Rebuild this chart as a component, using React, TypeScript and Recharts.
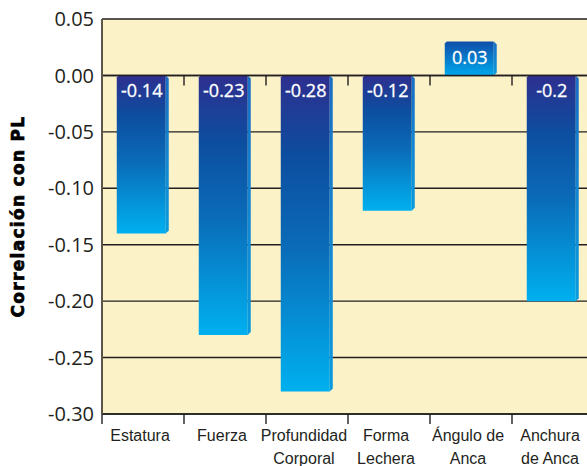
import { BarChart, Bar, XAxis, YAxis, CartesianGrid, ReferenceLine, LabelList } from 'recharts';

const categories = ['Estatura', 'Fuerza', 'Profundidad Corporal', 'Forma Lechera', 'Ángulo de Anca', 'Anchura de Anca'];
const categoryLines = [['Estatura'], ['Fuerza'], ['Profundidad', 'Corporal'], ['Forma', 'Lechera'], ['Ángulo de', 'Anca'], ['Anchura', 'de Anca']];
const correlations = [-0.14, -0.23, -0.28, -0.12, 0.03, -0.2];
const yTicks = [0.05, 0, -0.05, -0.1, -0.15, -0.2, -0.25, -0.3];

const data = categories.map((name, i) => ({ name, value: correlations[i] }));

const ink = '#231f20';

// bar with a thin bevelled side, like the original 3d look
const BevelBar = (props: any) => {
  const { x, y, width, height, value } = props;
  const top = Math.min(y, y + height);
  const h = Math.abs(height);
  const s = 3;
  const fill = value < 0 ? 'url(#negGrad)' : 'url(#posGrad)';
  return (
    <g>
      <path
        d={`M${x + 2},${top} L${x + width - s},${top} L${x + width - s},${top + h} L${x},${top + h} L${x},${top + 2} Z`}
        fill={fill}
      />
      <path
        d={`M${x + width - s},${top} L${x + width},${top + s} L${x + width},${top + h - s} L${x + width - s},${top + h} Z`}
        fill="url(#sideGrad)"
      />
    </g>
  );
};

const ValueLabel = (props: any) => {
  const { x, y, width, height, value } = props;
  const top = Math.min(y, y + height);
  return (
    <text
      x={x + width / 2 - 1}
      y={top + 22}
      textAnchor="middle"
      fill="#fff"
      stroke="#fff"
      strokeWidth={0.3}
      fontSize={18}
      fontFamily="Open Sans"
    >
      {String(value)}
    </text>
  );
};

const CategoryTick = (props: any) => {
  const { x, y, payload } = props;
  const half = payload.offset ?? 41;
  const idx = categories.indexOf(payload.value);
  const lines = categoryLines[idx] || [payload.value];
  return (
    <g>
      <line x1={x - half} x2={x - half} y1={y} y2={y + 10} stroke={ink} strokeWidth={1.4} />
      <text x={x - 3} y={y + 27} textAnchor="middle" fill={ink} fontSize={16} fontFamily="Liberation Sans">
        {lines.map((l, i) => (
          <tspan key={i} x={x - 3} dy={i === 0 ? 0 : 23}>{l}</tspan>
        ))}
      </text>
    </g>
  );
};

const ZeroLine = (props: any) => {
  const { x1, x2, y1 } = props;
  const step = (x2 - x1) / categories.length;
  return (
    <g>
      <line x1={x1} x2={x2} y1={y1} y2={y1} stroke={ink} strokeWidth={1.4} />
      {categories.slice(1).map((_, i) => (
        <line key={i} x1={x1 + step * (i + 1)} x2={x1 + step * (i + 1)} y1={y1} y2={y1 + 10} stroke={ink} strokeWidth={1.4} />
      ))}
    </g>
  );
};

const AxisTitle = (props: any) => {
  const { viewBox } = props;
  const cx = viewBox.x + 18;
  const cy = viewBox.y + viewBox.height / 2;
  return (
    <text
      x={cx}
      y={cy}
      transform={`rotate(-90 ${cx} ${cy})`}
      textAnchor="middle"
      dominantBaseline="central"
      fontSize={17}
      fontWeight="bold"
      letterSpacing={1.3}
      fontFamily="DejaVu Sans"
      fill="#000"
      stroke="#000"
      strokeWidth={0.7}
    >
      Correlación con PL
    </text>
  );
};

export default function App() {
  return (
    <div style={{ position: 'absolute', left: 0, top: 0, width: 587, height: 466, overflow: 'hidden', background: '#fff' }}>
      <BarChart width={600} height={466} data={data} margin={{ top: 19, right: 6, left: 0, bottom: 0 }} barCategoryGap="18%">
        <defs>
          <linearGradient id="negGrad" x1="0" y1="0" x2="0" y2="1">
            <stop offset="0%" stopColor="#2e2f8f" />
            <stop offset="25%" stopColor="#0d4d9f" />
            <stop offset="55%" stopColor="#0a6cb9" />
            <stop offset="100%" stopColor="#00b0ef" />
          </linearGradient>
          <linearGradient id="posGrad" x1="0" y1="0" x2="0" y2="1">
            <stop offset="0%" stopColor="#0f4ea8" />
            <stop offset="100%" stopColor="#00a8ec" />
          </linearGradient>
          <linearGradient id="sideGrad" x1="0" y1="0" x2="0" y2="1">
            <stop offset="0%" stopColor="#1a6fc4" />
            <stop offset="100%" stopColor="#0a9ade" />
          </linearGradient>
        </defs>
        <CartesianGrid vertical={false} stroke={ink} strokeWidth={1.4} fill="#fcf2c8" fillOpacity={1} />
        <XAxis
          dataKey="name"
          height={52}
          tickSize={0}
          tickMargin={0}
          tickLine={false}
          axisLine={{ stroke: ink, strokeWidth: 1.4 }}
          tick={<CategoryTick />}
          interval={0}
        />
        <YAxis
          width={102}
          domain={[-0.3, 0.05]}
          ticks={yTicks}
          tickFormatter={(v: number) => v.toFixed(2)}
          tickLine={false}
          axisLine={{ stroke: '#5b5447', strokeWidth: 2 }}
          tick={{ fontSize: 20, fill: ink, fontFamily: 'Open Sans' }}
          label={<AxisTitle />}
        />
        <ReferenceLine y={0} shape={<ZeroLine />} />
        <Bar dataKey="value" shape={<BevelBar />} isAnimationActive={false}>
          <LabelList dataKey="value" content={<ValueLabel />} />
        </Bar>
      </BarChart>
    </div>
  );
}
